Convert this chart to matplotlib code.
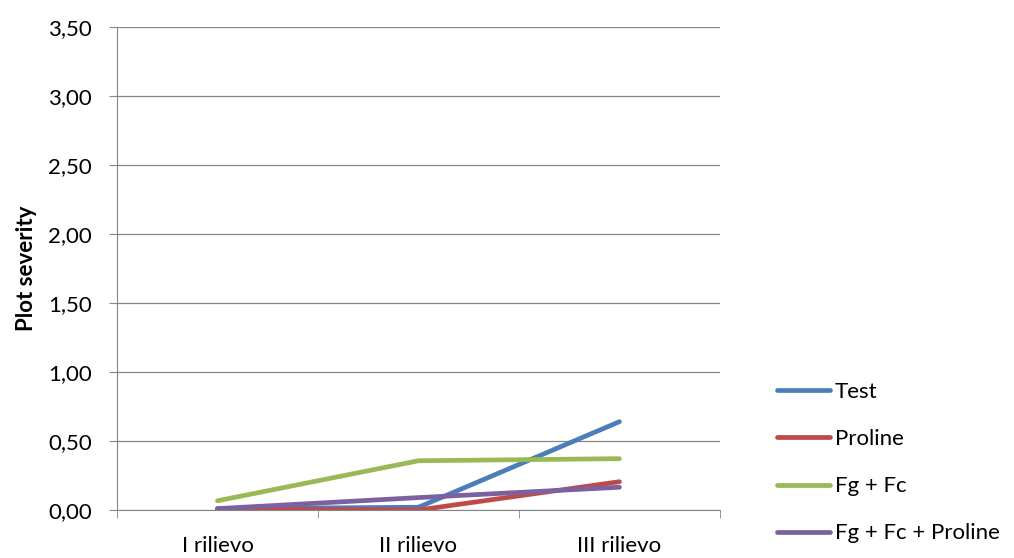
import numpy as np
import matplotlib.pyplot as plt

plt.rcParams['font.family'] = ['Lato', 'DejaVu Sans']

# data
categories = ["I rilievo", "II rilievo", "III rilievo"]
test = [0.01, 0.02, 0.64]
proline = [0.005, 0.0, 0.205]
fg_fc = [0.067, 0.357, 0.372]
fg_fc_proline = [0.01, 0.09, 0.165]

series = [("Test", test, "#4A7EBB"),
          ("Proline", proline, "#BE4B48"),
          ("Fg + Fc", fg_fc, "#98B954"),
          ("Fg + Fc + Proline", fg_fc_proline, "#7D60A0")]

fig = plt.figure(figsize=(10.14, 5.58), dpi=100)
ax = fig.add_axes([0.1154, 0.086, 0.5946, 0.8656])

x = np.arange(len(categories))
for name, vals, col in series:
    ax.plot(x, vals, color=col, lw=3.4, label=name, solid_capstyle='round')

ax.set_xlim(-0.5, len(categories) - 0.5)
ax.set_ylim(0, 3.5)
yt = np.arange(0, 3.51, 0.5)
ax.set_yticks(yt)
ax.set_yticklabels([f"{v:.2f}".replace(".", ",") for v in yt], fontsize=16)
ax.set_xticks(x)
ax.set_xticklabels(categories, fontsize=16)
ax.set_xticks(np.arange(-0.5, len(categories), 1), minor=True)
ax.tick_params(axis='x', which='major', length=0, pad=19)
ax.tick_params(axis='x', which='minor', length=6, color='#868686')
ax.tick_params(axis='y', length=6, color='#868686', pad=12)
ax.yaxis.grid(True, color='#868686', lw=0.9)
ax.set_axisbelow(True)
for s in ['top', 'right']:
    ax.spines[s].set_visible(False)
for s in ['left', 'bottom']:
    ax.spines[s].set_color('#868686')
ax.set_ylabel("Plot severity", fontsize=16, fontweight='bold', labelpad=8)

fig.legend(loc='upper left', bbox_to_anchor=(0.7465, 0.351), frameon=False,
           fontsize=16, handlelength=2.4, handletextpad=0.2, labelspacing=1.22)

fig.savefig("out.png", dpi=100)
